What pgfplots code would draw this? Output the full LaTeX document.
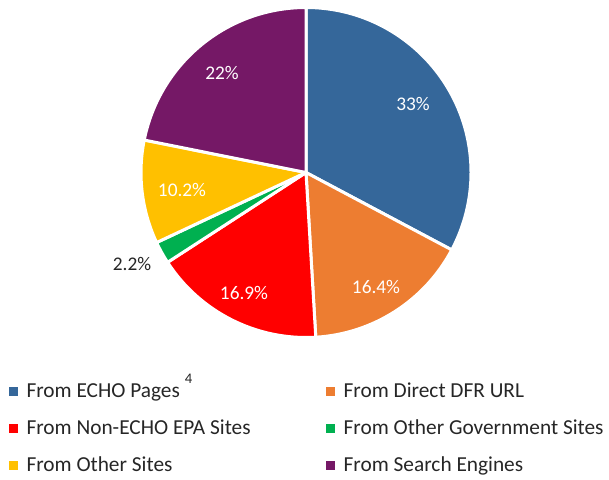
\documentclass[border=0pt]{standalone}
\usepackage{pgfplots}
\pgfplotsset{compat=1.18}
\usepackage{pgfplotstable}
\usepackage{fontspec}
\setmainfont{Carlito}
\definecolor{cEcho}{RGB}{53,103,154}
\definecolor{cDirect}{RGB}{237,125,49}
\definecolor{cNon}{RGB}{255,0,0}
\definecolor{cGov}{RGB}{0,176,80}
\definecolor{cOther}{RGB}{255,192,0}
\definecolor{cSearch}{RGB}{117,24,102}
\definecolor{txt}{RGB}{38,38,38}

\pgfplotstableread[col sep=comma]{
name,value
From ECHO Pages,33
From Direct DFR URL,16.4
From Non-ECHO EPA Sites,16.9
From Other Government Sites,2.2
From Other Sites,10.2
From Search Engines,22
}\piedata

\pgfmathsetmacro\tot{100.7}
\xdef\cum{0}
\foreach \i in {0,...,5}{%
  \pgfplotstablegetelem{\i}{value}\of\piedata
  \pgfmathsetmacro\a{90-\cum/\tot*360}%
  \pgfmathsetmacro\b{90-(\cum+\pgfplotsretval)/\tot*360}%
  \expandafter\xdef\csname sa\i\endcsname{\a}%
  \expandafter\xdef\csname sb\i\endcsname{\b}%
  \pgfmathsetmacro\newcum{\cum+\pgfplotsretval}%
  \xdef\cum{\newcum}%
}

\newcommand\slice[2]{%
  \fill[#2, draw=white, line width=2.25pt, line join=round]
    (axis cs:306,306.5) -- ++(\csname sa#1\endcsname:123.75pt)
    arc[start angle=\csname sa#1\endcsname, end angle=\csname sb#1\endcsname, radius=123.75pt] -- cycle;}

\begin{document}
\begin{tikzpicture}
\begin{axis}[
  x=0.75pt, y=0.75pt, xmin=0, xmax=609, ymin=0, ymax=479,
  hide axis, clip=false,
  legend columns=2,
  legend cell align=left,
  legend image code/.code={\fill[#1] (0pt,-1.5pt) rectangle (6pt,4.5pt);},
  legend style={at={(axis cs:9,95.7)}, anchor=north west, draw=none, fill=none,
    inner sep=0pt, outer sep=0pt, font=\fontsize{16}{19}\selectfont, text=txt,
    row sep=12.75pt,
    nodes={inner sep=0pt, text height=11pt, text depth=4pt},
    /tikz/every odd column/.append style={column sep=6.75pt},
    /tikz/every even column/.append style={column sep=56.6pt}},
]
\coordinate (ll) at (axis cs:0,0);
\coordinate (ur) at (axis cs:609,479);
\slice{0}{cEcho}
\slice{1}{cDirect}
\slice{2}{cNon}
\slice{3}{cGov}
\slice{4}{cOther}
\slice{5}{cSearch}
\addlegendimage{cEcho}\addlegendentry{From ECHO Pages}
\addlegendimage{cDirect}\addlegendentry{From Direct DFR URL}
\addlegendimage{cNon}\addlegendentry{From Non-ECHO EPA Sites}
\addlegendimage{cGov}\addlegendentry{From Other Government Sites}
\addlegendimage{cOther}\addlegendentry{From Other Sites}
\addlegendimage{cSearch}\addlegendentry{From Search Engines}
\begin{scope}[every node/.style={font=\fontsize{14.5}{17}\selectfont, text=white}]
\node at (axis cs:413,375) {33\%};
\node at (axis cs:376,192) {16.4\%};
\node at (axis cs:244,186) {16.9\%};
\node at (axis cs:182,289) {10.2\%};
\node at (axis cs:222,406) {22\%};
\node[text=txt] at (axis cs:132,215) {2.2\%};
\end{scope}
\node[font=\fontsize{11}{13}\selectfont, text=txt] at (axis cs:188.5,100) {4};
\end{axis}
\pgfresetboundingbox
\path (ll) rectangle (ur);
\end{tikzpicture}
\end{document}
